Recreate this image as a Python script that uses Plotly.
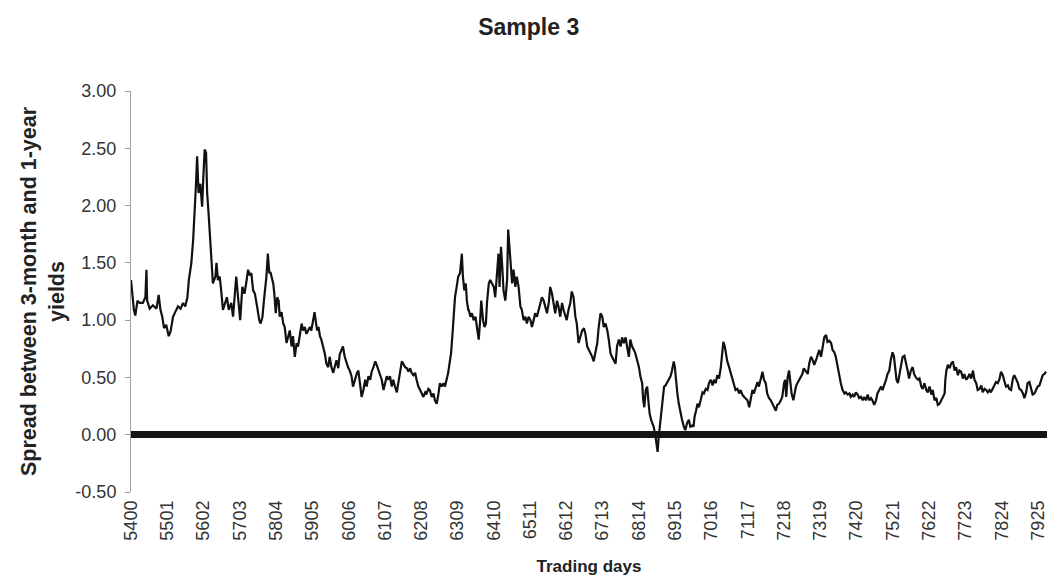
import plotly.graph_objects as go

# Trading day index and the spread (3-month vs 1-year yields)
days = [
    5400, 5403, 5408, 5412, 5418, 5424, 5433, 5440, 5443, 5445, 5452, 5461, 5471, 5477, 5482,
    5487, 5492, 5498, 5505, 5510, 5517, 5523, 5531, 5538, 5545, 5551, 5557, 5561, 5568, 5573,
    5577, 5581, 5584, 5588, 5593, 5598, 5601, 5605, 5609, 5612, 5616, 5620, 5624, 5628, 5635,
    5638, 5642, 5647, 5651, 5656, 5662, 5667, 5672, 5679, 5684, 5688, 5693, 5698, 5704, 5710,
    5716,
    5722, 5726, 5731, 5735, 5740, 5745, 5751, 5757, 5761, 5766, 5770, 5774, 5777, 5781, 5785,
    5788, 5792, 5796, 5799, 5803, 5807, 5811, 5814, 5819, 5824, 5828, 5833, 5838, 5842, 5847,
    5851, 5856, 5861, 5865, 5870, 5875, 5879, 5884, 5888, 5893, 5898, 5902, 5907, 5911, 5914,
    5918, 5922, 5926, 5930, 5935, 5940, 5944, 5949, 5953, 5958, 5963, 5967, 5972, 5977, 5981,
    5986, 5990, 5995, 6000, 6004, 6009, 6014, 6018, 6023, 6027,
    6029, 6033, 6038, 6042, 6047, 6052, 6056, 6061, 6066, 6070, 6075, 6080, 6084, 6089, 6093,
    6098, 6103, 6107, 6112, 6117, 6121, 6126, 6130, 6135, 6140, 6144, 6149, 6154, 6158, 6163,
    6168, 6172, 6177, 6181, 6186, 6191, 6195, 6200, 6205, 6209, 6214, 6219, 6223, 6228, 6232,
    6237, 6242, 6246, 6251, 6256, 6260, 6265, 6270, 6274, 6279, 6283, 6288, 6291, 6295, 6298,
    6302, 6305, 6308, 6311, 6316, 6321, 6324, 6328, 6332, 6335, 6339,
    6340, 6345, 6349, 6354, 6359, 6363, 6368, 6372, 6375, 6380, 6384, 6388, 6391, 6396, 6400,
    6405, 6410, 6414, 6419, 6423, 6426, 6430, 6434, 6437, 6442, 6447, 6450, 6454, 6458, 6461,
    6465, 6470, 6474, 6479, 6484, 6488, 6493, 6498, 6502, 6507, 6512, 6516, 6521, 6525, 6530,
    6535, 6539, 6544, 6549, 6553, 6558, 6563, 6567, 6572, 6576, 6581, 6586, 6590, 6595, 6600,
    6604, 6609, 6613, 6618, 6623, 6627, 6632, 6637, 6641, 6646, 6651,
    6656, 6661, 6665, 6670, 6675, 6679, 6684, 6688, 6693, 6698, 6702, 6707, 6712, 6716, 6721,
    6726, 6730, 6735, 6739, 6744, 6749, 6753, 6758, 6763, 6767, 6772, 6777, 6781, 6786, 6790,
    6795, 6800, 6804, 6809, 6814, 6818, 6823, 6826, 6829, 6833, 6837, 6841, 6844, 6848, 6852,
    6855, 6859, 6863, 6866, 6869, 6873, 6877, 6880, 6884, 6888, 6892, 6897, 6902, 6906, 6911,
    6914, 6917, 6921, 6925, 6930, 6934, 6939, 6943, 6948, 6953, 6957, 6962,
    6966, 6969, 6973, 6977, 6981, 6986, 6991, 6995, 7000, 7005, 7009, 7014, 7019, 7023, 7028,
    7032, 7037, 7042, 7045, 7049, 7053, 7057, 7060, 7065, 7070, 7074, 7079, 7083, 7088, 7093,
    7097, 7102, 7107, 7111, 7116, 7121, 7125, 7130, 7134, 7139, 7144, 7148, 7153, 7158, 7162,
    7167, 7171, 7176, 7181, 7185, 7190, 7195, 7199, 7204, 7209, 7213, 7218, 7221, 7224, 7228,
    7232, 7235, 7239, 7244, 7248, 7251, 7255, 7260, 7264, 7269, 7273,
    7279, 7284, 7288, 7293, 7298, 7302, 7307, 7311, 7316, 7321, 7325, 7330, 7335, 7339, 7344,
    7349, 7353, 7358, 7362, 7367, 7372, 7376, 7381, 7386, 7390, 7395, 7400, 7404, 7409, 7413,
    7418, 7423, 7427, 7432, 7437, 7441, 7446, 7451, 7455, 7460, 7464, 7469, 7474, 7478, 7483,
    7488, 7492, 7497, 7502, 7506, 7511, 7515, 7520, 7524, 7527, 7531, 7535, 7539, 7543, 7548,
    7553, 7557, 7562, 7566, 7571, 7576, 7580, 7585,
    7591, 7595, 7600, 7604, 7609, 7614, 7618, 7623, 7628, 7632, 7637, 7642, 7646, 7651, 7655,
    7660, 7665, 7667, 7670, 7674, 7679, 7683, 7688, 7693, 7697, 7702, 7706, 7711, 7716, 7720,
    7725, 7730, 7734, 7739, 7744, 7748, 7753, 7757, 7762, 7767, 7771, 7776, 7781, 7785, 7790,
    7794, 7799, 7804, 7808, 7813, 7818, 7822, 7827, 7832, 7836, 7841, 7845, 7850, 7855, 7859,
    7864, 7869, 7873, 7878, 7883, 7887, 7892, 7896, 7901, 7906, 7910, 7915, 7920, 7924, 7929,
    7934, 7938, 7943, 7947,
]

spread = [
    1.35, 1.26, 1.09, 1.04, 1.17, 1.15, 1.15, 1.20, 1.44, 1.17, 1.10, 1.13, 1.10, 1.22, 1.09,
    1.03, 0.93, 0.96, 0.86, 0.90, 1.03, 1.07, 1.12, 1.10, 1.15, 1.12, 1.20, 1.35, 1.50, 1.70,
    1.90, 2.19, 2.43, 2.11, 2.19, 1.99, 2.22, 2.49, 2.46, 2.11, 1.93, 1.73, 1.55, 1.32, 1.38,
    1.50, 1.35, 1.38, 1.26, 1.09, 1.15, 1.20, 1.09, 1.15, 1.03, 1.22, 1.38, 1.20, 1.00, 1.29,
    1.23,
    1.35, 1.44, 1.39, 1.41, 1.26, 1.23, 1.12, 1.00, 0.97, 1.03, 1.17, 1.29, 1.38, 1.58, 1.41,
    1.42, 1.36, 1.32, 1.23, 1.06, 1.20, 1.17, 1.03, 1.07, 0.97, 0.94, 0.80, 0.88, 0.91, 0.77,
    0.86, 0.68, 0.80, 0.77, 0.88, 0.97, 0.91, 0.94, 0.88, 0.91, 0.94, 0.91, 1.01, 1.07, 1.00,
    0.91, 0.94, 0.86, 0.83, 0.77, 0.70, 0.62, 0.59, 0.68, 0.59, 0.54, 0.59, 0.65, 0.58, 0.70,
    0.74, 0.77, 0.68, 0.62, 0.59, 0.56, 0.51, 0.42, 0.48, 0.54,
    0.54, 0.56, 0.42, 0.33, 0.39, 0.48, 0.42, 0.51, 0.48, 0.55, 0.59, 0.64, 0.61, 0.56, 0.51,
    0.48, 0.39, 0.45, 0.51, 0.48, 0.51, 0.42, 0.48, 0.42, 0.37, 0.45, 0.55, 0.64, 0.62, 0.59,
    0.58, 0.55, 0.58, 0.54, 0.52, 0.54, 0.48, 0.42, 0.39, 0.36, 0.33, 0.37, 0.36, 0.40, 0.39,
    0.33, 0.36, 0.30, 0.27, 0.36, 0.45, 0.42, 0.45, 0.42, 0.48, 0.54, 0.65, 0.71, 0.88, 1.03,
    1.20, 1.26, 1.32, 1.38, 1.41, 1.58, 1.38, 1.26, 1.32, 1.17, 1.09,
    1.09, 1.03, 1.06, 1.00, 1.03, 0.94, 0.83, 1.00, 1.17, 1.00, 0.94, 0.97, 1.15, 1.32, 1.35,
    1.32, 1.29, 1.20, 1.47, 1.58, 1.29, 1.64, 1.44, 1.26, 1.17, 1.35, 1.79, 1.64, 1.50, 1.32,
    1.44, 1.29, 1.38, 1.29, 1.12, 1.09, 1.00, 1.03, 0.97, 1.03, 1.00, 0.94, 1.00, 1.06, 1.03,
    1.09, 1.12, 1.20, 1.17, 1.12, 1.06, 1.15, 1.29, 1.23, 1.15, 1.06, 1.17, 1.12, 1.03, 1.15,
    1.09, 1.03, 1.00, 1.09, 1.15, 1.25, 1.20, 1.03, 0.97, 0.80, 0.85,
    0.91, 0.93, 0.88, 0.77, 0.74, 0.71, 0.68, 0.64, 0.71, 0.80, 0.94, 1.06, 1.03, 0.94, 0.97,
    0.91, 0.83, 0.71, 0.68, 0.65, 0.62, 0.77, 0.83, 0.77, 0.85, 0.80, 0.85, 0.77, 0.68, 0.83,
    0.77, 0.74, 0.71, 0.65, 0.59, 0.51, 0.45, 0.30, 0.24, 0.39, 0.42, 0.27, 0.18, 0.13, 0.10,
    0.07, 0.01, -0.09, -0.15, -0.02, 0.10, 0.24, 0.36, 0.42, 0.43, 0.45, 0.48, 0.51, 0.56, 0.64,
    0.59, 0.45, 0.36, 0.27, 0.18, 0.13, 0.07, 0.04, 0.10, 0.13, 0.07, 0.08,
    0.07, 0.16, 0.21, 0.27, 0.24, 0.30, 0.37, 0.36, 0.40, 0.39, 0.45, 0.48, 0.43, 0.48, 0.45,
    0.52, 0.49, 0.59, 0.71, 0.81, 0.77, 0.68, 0.64, 0.59, 0.53, 0.48, 0.42, 0.39, 0.40, 0.36,
    0.39, 0.35, 0.33, 0.32, 0.30, 0.24, 0.32, 0.39, 0.36, 0.42, 0.46, 0.42, 0.48, 0.55, 0.48,
    0.45, 0.36, 0.32, 0.30, 0.27, 0.24, 0.21, 0.26, 0.27, 0.30, 0.33, 0.45, 0.48, 0.33, 0.50,
    0.56, 0.48, 0.36, 0.30, 0.39, 0.42, 0.45, 0.48, 0.50, 0.53, 0.58,
    0.55, 0.53, 0.62, 0.68, 0.65, 0.61, 0.65, 0.69, 0.74, 0.68, 0.77, 0.85, 0.87, 0.81, 0.82,
    0.80, 0.74, 0.72, 0.68, 0.59, 0.49, 0.45, 0.39, 0.36, 0.37, 0.35, 0.36, 0.33, 0.35, 0.33,
    0.37, 0.35, 0.32, 0.33, 0.30, 0.33, 0.30, 0.35, 0.30, 0.32, 0.30, 0.26, 0.30, 0.36, 0.39,
    0.42, 0.39, 0.43, 0.48, 0.53, 0.56, 0.65, 0.72, 0.68, 0.56, 0.48, 0.45, 0.53, 0.62, 0.68,
    0.69, 0.64, 0.56, 0.49, 0.56, 0.59, 0.53, 0.50,
    0.48, 0.49, 0.42, 0.40, 0.45, 0.39, 0.37, 0.42, 0.35, 0.39, 0.30, 0.32, 0.26, 0.27, 0.30,
    0.33, 0.36, 0.48, 0.56, 0.61, 0.58, 0.62, 0.64, 0.56, 0.59, 0.52, 0.56, 0.55, 0.49, 0.53,
    0.48, 0.50, 0.53, 0.49, 0.56, 0.48, 0.45, 0.39, 0.40, 0.43, 0.37, 0.40, 0.39, 0.37, 0.39,
    0.37, 0.40, 0.43, 0.46, 0.45, 0.49, 0.55, 0.52, 0.46, 0.42, 0.43, 0.40, 0.39, 0.49, 0.52,
    0.48, 0.45, 0.40, 0.39, 0.36, 0.32, 0.37, 0.45, 0.46, 0.39, 0.35, 0.36, 0.39, 0.42, 0.43,
    0.49, 0.52, 0.53, 0.55,
]

x_tick_labels = [5400, 5501, 5602, 5703, 5804, 5905, 6006, 6107, 6208, 6309, 6410, 6511, 6612,
                 6713, 6814, 6915, 7016, 7117, 7218, 7319, 7420, 7521, 7622, 7723, 7824, 7925]
y_tick_values = [-0.5, 0.0, 0.5, 1.0, 1.5, 2.0, 2.5, 3.0]
y_tick_labels = ["-0.50", "0.00", "0.50", "1.00", "1.50", "2.00", "2.50", "3.00"]

FONT = "Liberation Sans, Arial, sans-serif"

fig = go.Figure()
fig.add_trace(go.Scatter(
    x=days, y=spread, mode="lines",
    line=dict(color="#111111", width=2.2),
    showlegend=False, hoverinfo="x+y",
))

fig.update_layout(
    width=1047, height=583,
    paper_bgcolor="white", plot_bgcolor="white",
    margin=dict(l=131, r=0, t=91, b=91),
    font=dict(family=FONT, color="#333333"),
    title=dict(text="<b>Sample 3</b>", x=0.505, xanchor="center", y=0.953, yanchor="middle",
               font=dict(family=FONT, size=23, color="#222222")),
    xaxis=dict(
        range=[5400, 7950], tickvals=x_tick_labels, ticktext=[str(v) for v in x_tick_labels],
        tickangle=-90, showgrid=False, zeroline=False, showline=False, ticks="",
        ticklabeloverflow="allow", ticklabelstandoff=4,
        tickfont=dict(family=FONT, size=18, color="#333333"),
        title=dict(text="<b>Trading days</b>", standoff=20,
                   font=dict(family=FONT, size=17, color="#222222")),
        automargin=False,
    ),
    yaxis=dict(
        range=[-0.5, 3.0], tickvals=y_tick_values, ticktext=y_tick_labels,
        showgrid=False, showline=True, linecolor="#a0a0a0", linewidth=1,
        ticks="outside", ticklen=5, tickcolor="#a0a0a0", ticklabelstandoff=5,
        zeroline=True, zerolinecolor="#151515", zerolinewidth=7,
        tickfont=dict(family=FONT, size=18, color="#333333"),
        title=dict(text="<b>Spread between 3-month and 1-year<br>yields</b>", standoff=4,
                   font=dict(family=FONT, size=21.5, color="#222222")),
        automargin=False,
    ),
)

fig.write_html("out.html", config={"displayModeBar": False})

# remove the browser's default page margin so the figure sits at the window origin
with open("out.html", "r", encoding="utf-8") as f:
    html = f.read()
html = html.replace("<head>", "<head><style>html,body{margin:0;padding:0;overflow:hidden;}</style>", 1)
with open("out.html", "w", encoding="utf-8") as f:
    f.write(html)
